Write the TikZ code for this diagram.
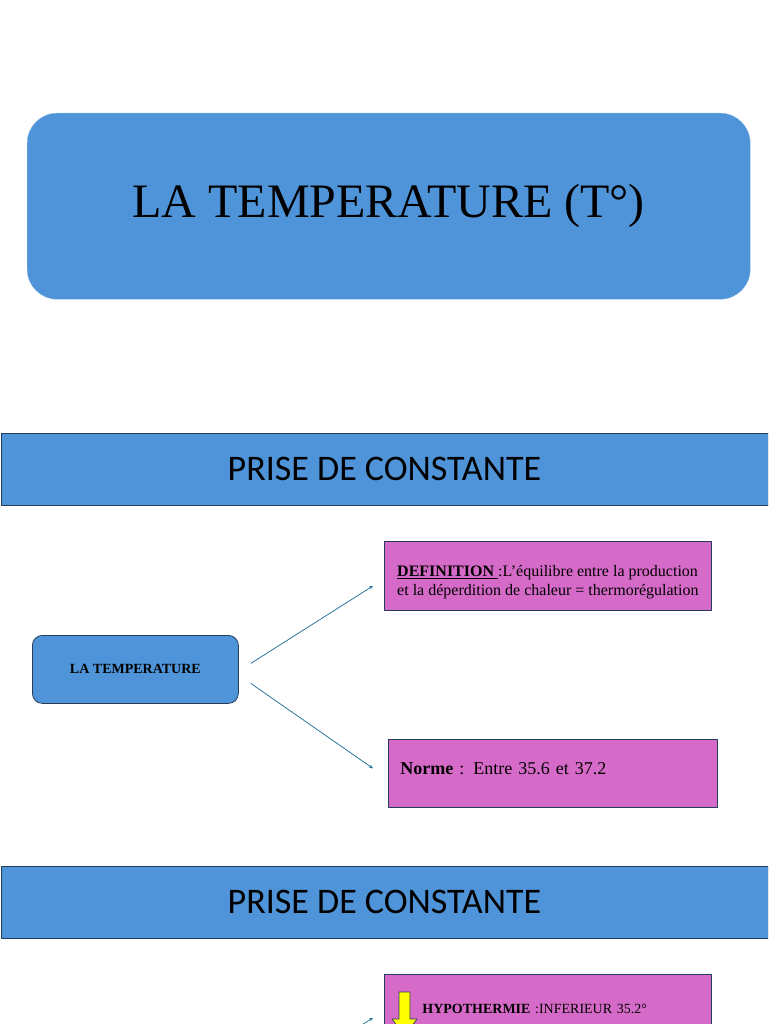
\documentclass[tikz,border=0pt]{standalone}
\usepackage{fontspec}
\setmainfont{Liberation Serif}
\newfontfamily\bannerfont{Carlito}
\usetikzlibrary{arrows.meta,positioning}
\definecolor{slideblue}{RGB}{79,148,216}
\definecolor{slideorchid}{RGB}{214,106,200}
\definecolor{slideedge}{RGB}{38,60,88}
\definecolor{slidelink}{RGB}{46,117,160}
\definecolor{slideyellow}{RGB}{255,255,0}

\begin{document}
\begin{tikzpicture}[x=1pt,y=-1pt,>={Stealth[length=4pt,width=3.5pt]},line join=round,
 banner/.style={draw=slideedge,fill=slideblue,line width=0.8pt,anchor=north west,
  minimum width=767pt,minimum height=72pt,inner sep=0pt,
  font=\bannerfont\fontsize{36}{40}\selectfont},
 infobox/.style={draw=slideedge,fill=slideorchid,line width=0.8pt,anchor=north west,
  minimum height=69pt,align=left,inner ysep=0pt},
 link/.style={->,slidelink,line width=0.8pt}]
 \useasboundingbox (0,0) rectangle (768,1024);
 \clip (0,0) rectangle (768,1024);
 % title
 \node[fill=slideblue,draw=slideblue!75!white,rounded corners=30pt,anchor=north west,
  minimum width=723pt,minimum height=186pt,font=\fontsize{48}{52}\selectfont]
  (title) at (27,113) {LA TEMPERATURE (T°)};
 % first slide
 \node[banner] (banner1) at (0.5,433) {PRISE DE CONSTANTE};
 \node[fill=slideblue,draw=slideedge,line width=0.8pt,rounded corners=10pt,anchor=north west,
  minimum width=206pt,minimum height=68pt,font=\bfseries\fontsize{14}{17}\selectfont]
  (temp) at (32,635) {LA TEMPERATURE};
 \node[infobox,minimum width=327pt,inner xsep=0pt,font=\fontsize{16}{19}\selectfont]
  (def) at (384,541)
  {\rule{0pt}{23pt}\underline{\textbf{DEFINITION }}:L'équilibre entre la production\\
   et la déperdition de chaleur = thermorégulation};
 \node[infobox,text width=305pt,inner xsep=12pt,text depth=9pt,minimum height=68pt,
  font=\fontsize{18}{22}\selectfont]
  (norme) at (388,739) {\textbf{Norme} : Entre 35.6 et 37.2};
 \draw[link] ([shift={(12,-6)}]temp.east) -- ([shift={(-11,10)}]def.west);
 \draw[link] ([shift={(12,14)}]temp.east) -- ([shift={(-15,-5)}]norme.west);
 % second slide
 \node[banner] (banner2) at (0.5,866) {PRISE DE CONSTANTE};
 \node[infobox,text width=251pt,inner xsep=38pt,font=\fontsize{14}{17}\selectfont]
  (hypo) at (384,974) {\textbf{HYPOTHERMIE} :INFERIEUR 35.2°};
 \filldraw[fill=slideyellow,draw=slideedge,line width=0.7pt]
  (399,992) -- (410,992) -- (410,1019) -- (417,1019) -- (404.5,1036)
  -- (392,1019) -- (399,1019) -- cycle;
 \coordinate (hypofrom) at (352,1031);
 \draw[link] (hypofrom) -- ([shift={(-11,9)}]hypo.west);
\end{tikzpicture}
\end{document}
